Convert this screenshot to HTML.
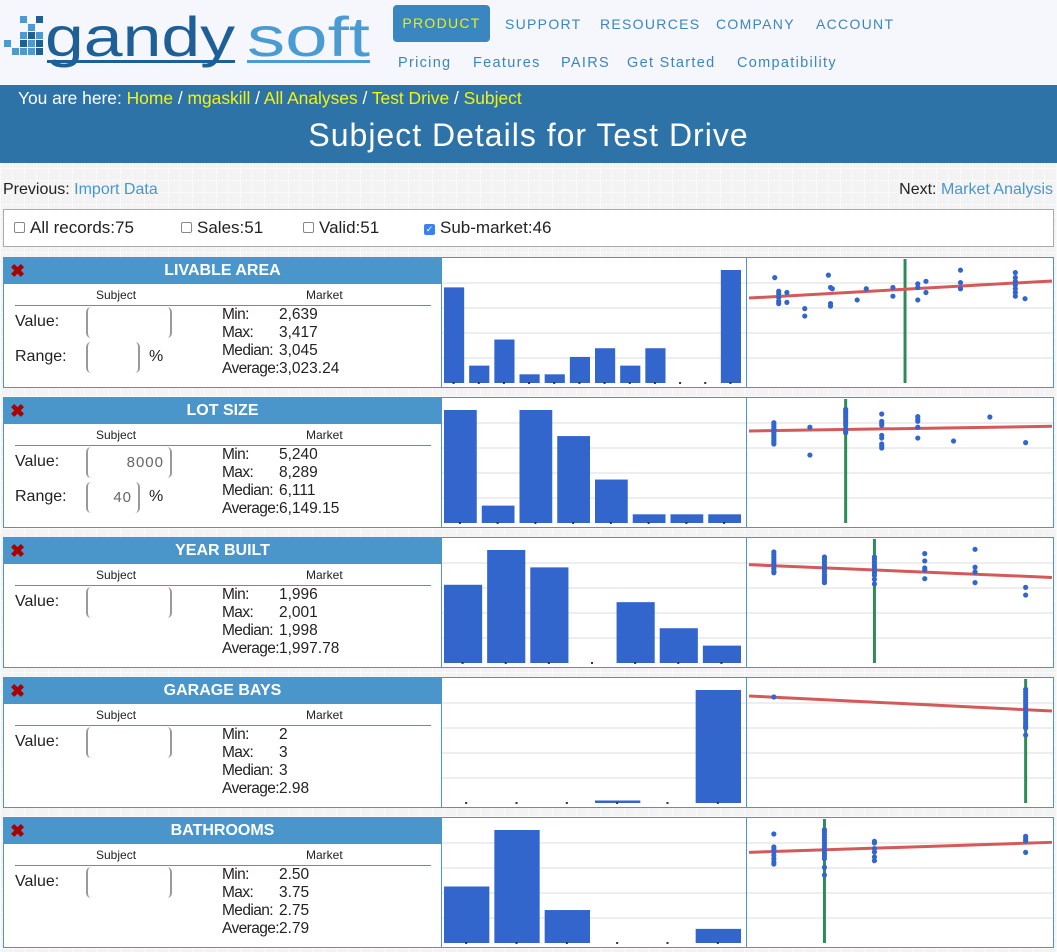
<!DOCTYPE html>
<html><head><meta charset="utf-8">
<style>
*{box-sizing:border-box;margin:0;padding:0}
body{width:1057px;height:952px;overflow:hidden;position:relative;font-family:"Liberation Sans",sans-serif;background:#f3f3f3;
background-image:linear-gradient(#fafafa 1px,transparent 1px),linear-gradient(90deg,#fafafa 1px,transparent 1px);background-size:12px 12px}
.abs{position:absolute}
#top{left:0;top:0;width:1057px;height:85px;background:#f6f7fc}
.nav{position:absolute;color:#3a86c0;font-size:14px;letter-spacing:1.3px}
.nav2{position:absolute;color:#3a86c0;font-size:14.5px;letter-spacing:1.3px}
#band{left:0;top:85px;width:1057px;height:78px;background:#2e73a7;color:#fff}
.y{color:#f4f40a}
.row{position:absolute;left:3px;width:1051px;height:131px;border:1px solid #4a96cb;background:#fff}
.hd{position:absolute;left:0;top:0;width:437px;height:26px;background:#4a96cb;color:#fff;font-weight:bold;font-size:16px;text-align:center;line-height:26px}
.x{position:absolute;left:6px;top:0;color:#a00;font-size:18px;line-height:26px;font-weight:bold}
.sub{position:absolute;font-size:12px;color:#222;top:30px}
.ln{position:absolute;left:11px;top:47px;width:416px;border-top:1px solid #4a96cb}
.lbl{position:absolute;left:11px;font-size:16px;color:#222}
.inp{position:absolute;left:82px;height:31px;border-left:2px solid #999;border-right:2px solid #999;border-radius:5px;font-size:15px;color:#666;text-align:right;padding-right:6px;line-height:31px;letter-spacing:1px}
.st{position:absolute;left:218px;top:48px;font-size:15.5px;line-height:18px;color:#222}
.st span{display:inline-block;width:57px;letter-spacing:-0.6px}
svg text{font-family:"Liberation Sans",sans-serif}
</style></head><body>
<div id="top" class="abs">
 <svg class="abs" style="left:0;top:0" width="385" height="80">
  <g fill="#4a9bd4">
   <rect x="20" y="16" width="7" height="7"/><rect x="28" y="24" width="7" height="7"/><rect x="20" y="32" width="7" height="7"/><rect x="4" y="40" width="7" height="7"/><rect x="28" y="40" width="7" height="7"/><rect x="20" y="48" width="7" height="7"/><rect x="28" y="48" width="7" height="7"/><rect x="12" y="48" width="7" height="7"/><rect x="36" y="32" width="7" height="7"/>
  </g>
  <g fill="#1d5f96"><rect x="36" y="16" width="7" height="7"/><rect x="36" y="40" width="7" height="7"/><rect x="36" y="48" width="7" height="7"/><rect x="28" y="32" width="7" height="7"/><rect x="20" y="40" width="7" height="7"/></g>
  <text x="45" y="56" font-size="56" fill="#1d5f96" textLength="190" lengthAdjust="spacingAndGlyphs">gandy</text>
  <text x="247" y="56" font-size="56" fill="#4a9bd4" textLength="123" lengthAdjust="spacingAndGlyphs">soft</text>
  <rect x="47" y="60" width="188" height="3" fill="#1d5f96"/><rect x="247" y="60" width="123" height="3" fill="#4a9bd4"/>
 </svg>
 <div class="abs" style="left:393px;top:5px;width:97px;height:37px;background:#3a86c0;border-radius:4px;color:#f0f000;font-size:14px;letter-spacing:1.3px;text-align:center;line-height:37px">PRODUCT</div>
 <div class="nav" style="left:505px;top:16px">SUPPORT</div>
 <div class="nav" style="left:600px;top:16px">RESOURCES</div>
 <div class="nav" style="left:716px;top:16px">COMPANY</div>
 <div class="nav" style="left:816px;top:16px">ACCOUNT</div>
 <div class="nav2" style="left:398px;top:55px">Pricing</div>
 <div class="nav2" style="left:473px;top:55px">Features</div>
 <div class="nav2" style="left:561px;top:55px">PAIRS</div>
 <div class="nav2" style="left:627px;top:55px">Get Started</div>
 <div class="nav2" style="left:737px;top:55px">Compatibility</div>
</div>
<div id="band" class="abs">
 <div class="abs" style="left:18px;top:3px;font-size:17.4px">You are here: <span class="y">Home</span> / <span class="y">mgaskill</span> / <span class="y">All Analyses</span> / <span class="y">Test Drive</span> / <span class="y">Subject</span></div>
 <div class="abs" style="left:0;width:1057px;top:32px;text-align:center;font-size:32px;letter-spacing:1px">Subject Details for Test Drive</div>
</div>
<div class="abs" style="left:3px;top:181px;font-size:16px;color:#222">Previous: <span style="color:#4a96cb">Import Data</span></div>
<div class="abs" style="right:4px;top:181px;font-size:16px;color:#222">Next: <span style="color:#4a96cb">Market Analysis</span></div>
<div class="abs" style="left:3px;top:209px;width:1051px;height:38px;border:1px solid #aaa;background:#fff;font-size:17px;color:#222">
 <div class="abs" style="left:10px;top:8px"><span style="display:inline-block;width:11px;height:11px;border:1px solid #888;border-radius:2px;margin-right:5px"></span>All records:75</div>
 <div class="abs" style="left:177px;top:8px"><span style="display:inline-block;width:11px;height:11px;border:1px solid #888;border-radius:2px;margin-right:5px"></span>Sales:51</div>
 <div class="abs" style="left:299px;top:8px"><span style="display:inline-block;width:11px;height:11px;border:1px solid #888;border-radius:2px;margin-right:5px"></span>Valid:51</div>
 <div class="abs" style="left:420px;top:8px"><span style="display:inline-block;width:11px;height:11px;background:#3b82f0;border-radius:2px;margin-right:5px;color:#fff;font-size:9px;line-height:11px;text-align:center;vertical-align:1px">✓</span>Sub-market:46</div>
</div>
<div id="rows"></div>
<script>
const rowNames=["LIVABLE AREA","LOT SIZE","YEAR BUILT","GARAGE BAYS","BATHROOMS"];
const rowValues=["","8000","","",""];
const rowRanges=["","40",null,null,null];
const statMin=["2,639","5,240","1,996","2","2.50"];
const statMax=["3,417","8,289","2,001","3","3.75"];
const statMedian=["3,045","6,111","1,998","3","2.75"];
const statAverage=["3,023.24","6,149.15","1,997.78","2.98","2.79"];
const hist1=[11,2,5,1,1,3,4,2,4,0,0,13];
const hist2=[13,2,13,10,5,1,1,1];
const hist3=[9,13,11,0,7,4,2];
const hist4=[0,0,0,1,0,45];
const hist5=[12,24,7,0,0,3];
const scatterX1=[8.5,9.8,9.8,9.8,9.8,9.8,12.5,12.5,18.4,18.4,26.2,26.9,27.5,26.9,26.9,35.7,38.7,47.5,47.5,55.7,55.7,55.7,58.4,58.4,69.8,69.8,69.8,87.9,87.9,87.9,87.9,87.9,87.9,87.9,91.1];
const scatterY1=[85,74,72,69,66,64,73,65,60,54,87,77,76,64,62,67,76,77,70,80,77,67,82,73,91,81,76,89,85,82,79,76,73,70,68];
const scatterX2=[8.2,8.2,8.2,8.2,8.2,8.2,8.2,8.2,8.2,8.2,8.2,8.2,20.1,20.1,31.9,31.9,31.9,31.9,31.9,31.9,31.9,31.9,31.9,31.9,31.9,43.8,43.8,43.8,43.8,43.8,43.8,43.8,43.8,43.8,55.7,55.7,55.7,55.7,55.7,67.5,79.5,91.3];
const scatterY2=[80.9,79.3,77.7,76.1,74.5,72.8,71.2,69.6,68,66.4,64.8,63.7,77.2,54.8,91.7,90.1,88.2,86.3,84.7,82.8,80.9,78.8,76.1,73.9,72.8,87.9,82,80.4,78.8,70.7,68.5,63.7,62.1,60.5,85.8,83.6,82,77.2,68.5,66.1,85.5,64.8];
const scatterX3=[8.2,8.2,8.2,8.2,8.2,8.2,8.2,8.2,8.2,8.2,24.9,24.9,24.9,24.9,24.9,24.9,24.9,24.9,24.9,24.9,24.9,24.9,41.4,41.4,41.4,41.4,41.4,41.4,41.4,41.4,41.4,41.4,58,58,58,58,58,74.6,74.6,74.6,74.6,91.3,91.3];
const scatterY3=[89.5,87.4,85.5,83.6,82,80.1,78.2,76.1,73.9,72.8,85.5,83.6,81.5,79.3,77.4,75.5,73.4,71.2,69.4,67.5,65.9,64.8,85.5,83.6,81.5,79.3,77.4,75.5,72.8,70.7,67.5,63.7,88.2,82.3,76.6,75,68,91.7,77.2,73.4,64.8,61,54.8];
const scatterX4=[8.2,91.3,91.3,91.3,91.3,91.3,91.3,91.3,91.3,91.3,91.3,91.3,91.3,91.3,91.3,91.3,91.3,91.3,91.3];
const scatterY4=[85.5,91.7,89.5,87.4,85.2,83,81,79,77,75,73,71,69,67,65,63,61.5,60.5,54.8];
const scatterX5=[8.2,8.2,8.2,8.2,8.2,8.2,8.2,8.2,24.9,24.9,24.9,24.9,24.9,24.9,24.9,24.9,24.9,24.9,24.9,24.9,24.9,24.9,41.4,41.4,41.4,41.4,41.4,41.4,91.3,91.3,91.3,91.3];
const scatterY5=[87.9,77.4,75.5,73.4,70.7,68,65.3,63.7,91.4,89.5,87.4,85.2,83.1,80.9,78.8,76.6,74.5,72.3,70.2,68,61,54.8,82,80.6,76.1,73.4,69.4,66.4,86,84.1,82.3,73.1];
const trendStart=[68.5,74.2,79.3,86.3,73.1];
const trendEnd=[82.3,78,69,74.2,81.2];
const subjectX=[51.5,31.9,41.4,91.3,24.9];
const hists=[hist1,hist2,hist3,hist4,hist5];
const sxs=[scatterX1,scatterX2,scatterX3,scatterX4,scatterX5];
const sys=[scatterY1,scatterY2,scatterY3,scatterY4,scatterY5];

const NS="http://www.w3.org/2000/svg";
const tops=[257,397,537,677,817];
const host=document.getElementById('rows');
function mk(tag,attrs,parent){const e=document.createElementNS(NS,tag);for(const k in attrs)e.setAttribute(k,attrs[k]);parent.appendChild(e);return e;}
rowNames.forEach((name,i)=>{
 const r=document.createElement('div');r.className='row';r.style.top=tops[i]+'px';
 
 
 let h=`<div class="hd">${name}</div><div class="x">✖</div>
 <div class="sub" style="left:92px">Subject</div><div class="sub" style="left:302px">Market</div><div class="ln"></div>
 <div class="lbl" style="top:55px">Value:</div>
 <div class="inp" style="top:49px;width:86px">${rowValues[i]}</div>`;
 if(rowRanges[i]!==null)h+=`<div class="lbl" style="top:90px">Range:</div><div class="inp" style="top:84px;width:54px">${rowRanges[i]}</div><div class="lbl" style="left:145px;top:90px">%</div>`;
 h+=`<div class="st"><span>Min:</span>${statMin[i]}<br><span>Max:</span>${statMax[i]}<br><span>Median:</span>${statMedian[i]}<br><span>Average:</span>${statAverage[i]}</div>`;
 r.innerHTML=h;
 host.appendChild(r);
 const svg=mk('svg',{width:612,height:129,style:'position:absolute;left:437px;top:0'},r);
 
 
 const base=125;
 const hg=mk('g',{},svg);
 
 
 for(let k=1;k<=4;k++)mk('line',{x1:1,x2:305,y1:base-25*k,y2:base-25*k,stroke:'#ddd'},hg);
 const d=hists[i],mx=Math.max(...d),pitch=302/d.length;
 d.forEach((v,j)=>{const bh=v/mx*113;const x=3+j*pitch;
  const b=mk('rect',{x:x,y:base-bh,width:pitch-5,height:bh,fill:'#3366cc'},hg);
  
  
  mk('rect',{x:x+pitch/2-4,y:base-1,width:2,height:2,fill:'#333'},hg);});
 mk('line',{x1:0.5,x2:0.5,y1:0,y2:129,stroke:'#4a96cb'},svg);
 const sg=mk('g',{},svg);
 
 
 const X=v=>308+v*3.03, Y=v=>base-v*1.24;
 for(let k=1;k<=4;k++)mk('line',{x1:306,x2:612,y1:base-25*k,y2:base-25*k,stroke:'#ddd'},sg);
 const gl=mk('line',{x1:X(subjectX[i]),x2:X(subjectX[i]),y1:1,y2:base,stroke:'#2e8b57','stroke-width':3},sg);
 
 
 const tl=mk('line',{x1:X(0),x2:X(100),y1:Y(trendStart[i]),y2:Y(trendEnd[i]),stroke:'#d45a5a','stroke-width':3},sg);
 
 
 sxs[i].forEach((xv,j)=>{const c=mk('circle',{cx:X(xv),cy:Y(sys[i][j]),r:2.6,fill:'#3366cc'},sg);
  
  });
 mk('line',{x1:305.5,x2:305.5,y1:0,y2:129,stroke:'#4a96cb'},svg);
});
</script>
</body></html>
